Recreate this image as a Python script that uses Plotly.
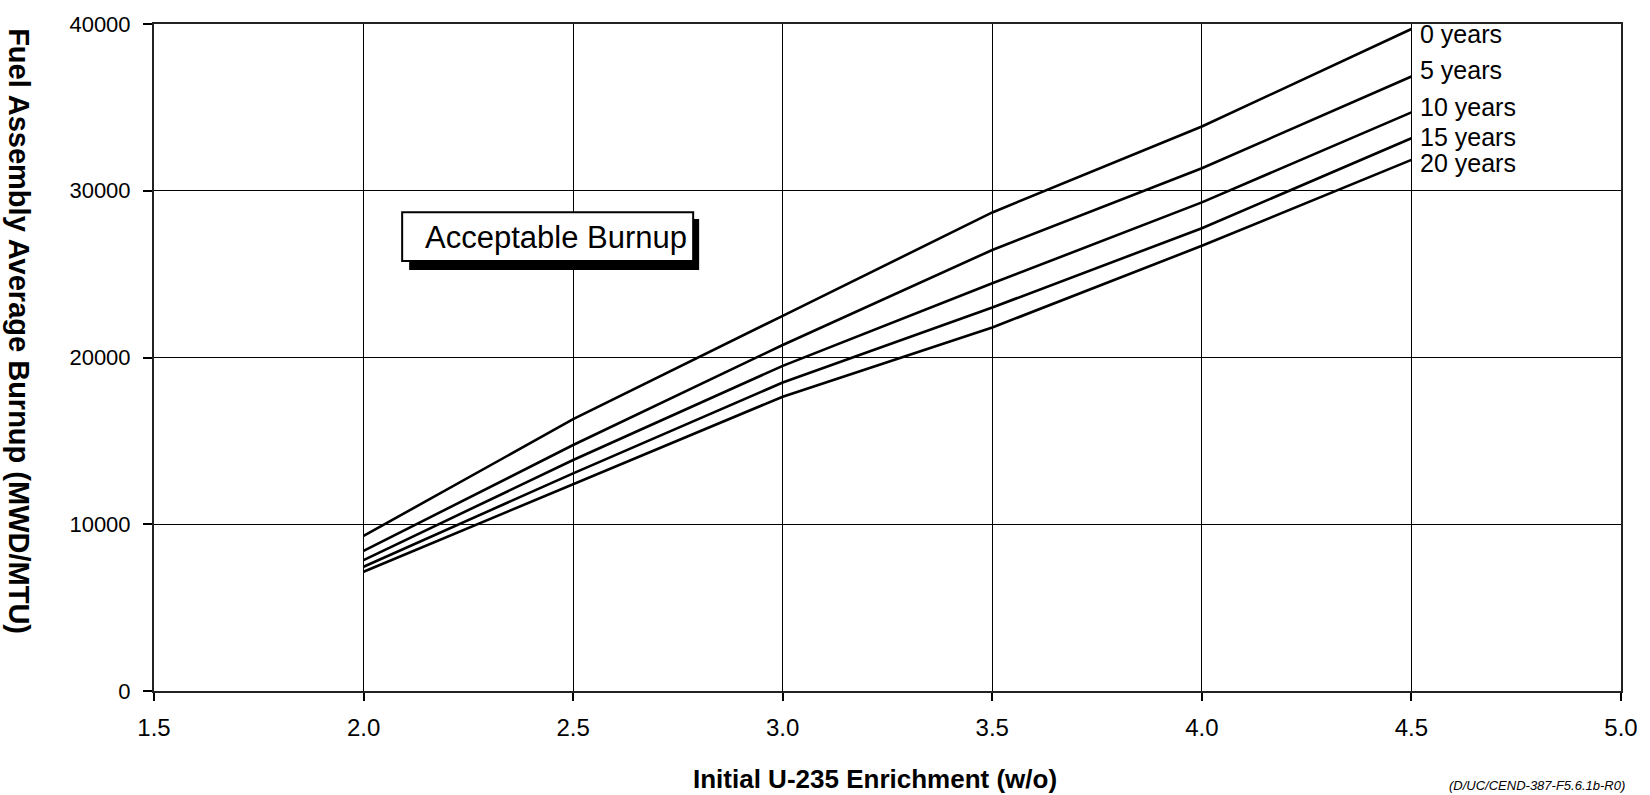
import plotly.graph_objects as go

enrichment = [2.0, 2.5, 3.0, 3.5, 4.0, 4.5]
burnup_0yr = [9300, 16300, 22500, 28700, 33850, 39700]
burnup_5yr = [8400, 14750, 20750, 26450, 31350, 36850]
burnup_10yr = [7850, 13850, 19500, 24450, 29300, 34700]
burnup_15yr = [7450, 13050, 18500, 23000, 27750, 33150]
burnup_20yr = [7150, 12400, 17650, 21800, 26700, 31850]
series_names = ["0 years", "5 years", "10 years", "15 years", "20 years"]
series_values = [burnup_0yr, burnup_5yr, burnup_10yr, burnup_15yr, burnup_20yr]
x_ticks = [1.5, 2.0, 2.5, 3.0, 3.5, 4.0, 4.5, 5.0]
x_tick_labels = ["1.5", "2.0", "2.5", "3.0", "3.5", "4.0", "4.5", "5.0"]
y_ticks = [0, 10000, 20000, 30000, 40000]
y_tick_labels = ["0", "10000", "20000", "30000", "40000"]

W, H = 1650, 795
L, R, T, B = 154, 24, 21, 104
pw, ph = W - L - R, H - T - B

def px(xp):
    return (xp - L) / pw

def py(yp):
    return 1 - (yp - T) / ph

FONT = "Liberation Sans, Arial, sans-serif"

fig = go.Figure()
for name, vals in zip(series_names, series_values):
    fig.add_trace(go.Scatter(x=enrichment, y=vals, mode="lines", name=name,
                             line=dict(color="black", width=2.6), showlegend=False))

# series labels at right end
label_ys = [31, 67, 104, 135, 161]
for name, yp in zip(series_names, label_ys):
    fig.add_annotation(x=4.5, y=py(yp), xref="x", yref="paper", text=name,
                       showarrow=False, xanchor="left", yanchor="middle", xshift=7,
                       font=dict(family=FONT, size=25, color="black"))

# Acceptable Burnup box with shadow
fig.add_shape(type="rect", xref="paper", yref="paper",
              x0=px(410), x1=px(701), y0=py(268), y1=py(217),
              fillcolor="black", line=dict(color="black", width=0), layer="above")
fig.add_shape(type="rect", xref="paper", yref="paper",
              x0=px(403), x1=px(695), y0=py(259), y1=py(210),
              fillcolor="white", line=dict(color="black", width=2), layer="above")
fig.add_annotation(x=px(557), y=py(235), xref="paper", yref="paper",
                   text="Acceptable Burnup", showarrow=False,
                   xanchor="center", yanchor="middle",
                   font=dict(family=FONT, size=31, color="black"))

# y-axis title reading top to bottom
fig.add_annotation(x=px(19), y=py(330), xref="paper", yref="paper",
                   text="<b>Fuel Assembly Average Burnup (MWD/MTU)</b>",
                   showarrow=False, textangle=90, xanchor="center", yanchor="middle",
                   font=dict(family=FONT, size=29, color="black"))

# x-axis title
fig.add_annotation(x=px(877), y=py(779), xref="paper", yref="paper",
                   text="<b>Initial U-235 Enrichment (w/o)</b>", showarrow=False,
                   xanchor="center", yanchor="middle",
                   font=dict(family=FONT, size=26, color="black"))

# footnote
fig.add_annotation(x=px(1542), y=py(786), xref="paper", yref="paper",
                   text="<i>(D/UC/CEND-387-F5.6.1b-R0)</i>", showarrow=False,
                   xanchor="center", yanchor="middle",
                   font=dict(family=FONT, size=13, color="black"))

fig.update_layout(
    width=W, height=H,
    margin=dict(l=L, r=R, t=T, b=B),
    paper_bgcolor="white", plot_bgcolor="white",
    font=dict(family=FONT, size=21, color="black"),
    xaxis=dict(range=[1.5, 5.0], tickvals=x_ticks, ticktext=x_tick_labels,
               showgrid=True, gridcolor="black", gridwidth=1,
               showline=True, linecolor="#222", linewidth=2, mirror=True,
               ticks="outside", ticklen=8, tickcolor="black", tickwidth=1.5,
               ticklabelstandoff=6, zeroline=False,
               tickfont=dict(family=FONT, size=24, color="black")),
    yaxis=dict(range=[0, 40000], tickvals=y_ticks, ticktext=y_tick_labels,
               showgrid=True, gridcolor="black", gridwidth=1,
               showline=True, linecolor="#222", linewidth=2, mirror=True,
               ticks="outside", ticklen=9, tickcolor="black", tickwidth=1.5,
               ticklabelstandoff=8, zeroline=False,
               tickfont=dict(family=FONT, size=22, color="black")),
)

fig.write_html("out.html", config={"displayModeBar": False},
               post_script="document.body.style.margin='0';")
